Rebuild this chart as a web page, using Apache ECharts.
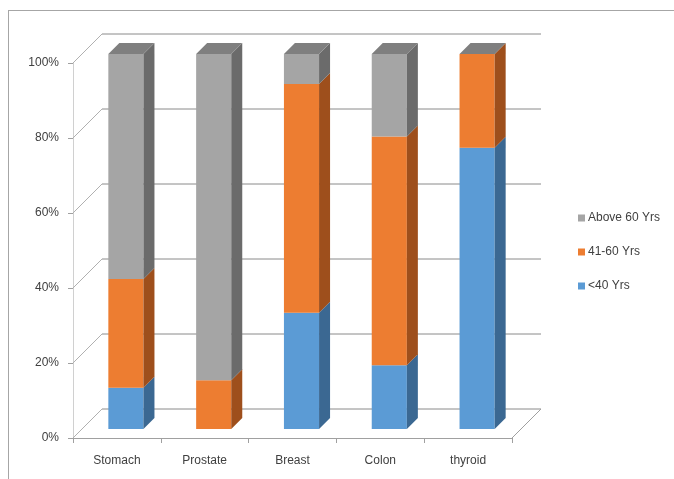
<!DOCTYPE html>
<html><head><meta charset="utf-8">
<script src="https://cdn.jsdelivr.net/npm/echarts@6/dist/echarts.min.js"></script>
<style>
html,body{margin:0;padding:0;background:#fff;}
#frame{position:absolute;left:8px;top:10px;width:700px;height:500px;border-top:1px solid #a6a6a6;border-left:1px solid #a6a6a6;}
#chart{position:absolute;left:0;top:0;width:674px;height:479px;}
</style>
</head><body>
<div id="frame"></div>
<div id="chart"></div>
<script>
// ---- data ----
const categories = ['Stomach', 'Prostate', 'Breast', 'Colon', 'thyroid'];
const under40 = [11, 0, 31, 17, 75];
const age41to60 = [29, 13, 61, 61, 25];
const above60 = [60, 87, 8, 22, 0];
const yTicks = [0, 20, 40, 60, 80, 100];
const seriesNames = ['<40 Yrs', '41-60 Yrs', 'Above 60 Yrs'];

// ---- styling ----
const WALL_DX = 29, WALL_DY = -29;   // depth of the 3D box
const BAR_OFF = 9;                   // bar front face inset
const BAR_D = 11;                    // bar depth
const FONT = 'Liberation Sans, Arial, sans-serif';

const chart = echarts.init(document.getElementById('chart'));

function stacked(arrays) {
  const out = [];
  const base = categories.map(() => 0);
  arrays.forEach(arr => {
    out.push(arr.map((v, i) => { const d = [i, base[i], base[i] + v]; base[i] += v; return d; }));
  });
  return out;
}
const stackData = stacked([under40, age41to60, above60]);

function barRender(front, side, topFill) {
  return function (params, api) {
    const ci = api.value(0), b = api.value(1), e = api.value(2);
    const pB = api.coord([ci, b]);
    const pT = api.coord([ci, e]);
    const cw = api.size([1, 0])[0];
    const bw = cw * 0.4;
    const xl = pB[0] - bw / 2 + BAR_OFF, xr = xl + bw;
    const yb = pB[1] - BAR_OFF, yt = pT[1] - BAR_OFF;
    const children = [
      { type: 'rect', shape: { x: xl, y: yt, width: bw, height: yb - yt }, style: { fill: front } },
      { type: 'polygon', shape: { points: [[xr, yt], [xr, yb], [xr + BAR_D, yb - BAR_D], [xr + BAR_D, yt - BAR_D]] }, style: { fill: side } }
    ];
    if (topFill) {
      children.push({ type: 'polygon', shape: { points: [[xl, yt], [xr, yt], [xr + BAR_D, yt - BAR_D], [xl + BAR_D, yt - BAR_D]] }, style: { fill: topFill } });
    }
    return { type: 'group', children };
  };
}

function wallRender(params, api) {
  const cs = params.coordSys;
  const v = api.value(1);
  const y = api.coord([0, v])[1];
  const x0 = cs.x, x1 = cs.x + cs.width;
  const lineStyle = { stroke: '#8a8a8a', lineWidth: 1 };
  const children = [
    { type: 'line', shape: { x1: x0 + WALL_DX, y1: y + WALL_DY, x2: x1 + WALL_DX, y2: y + WALL_DY }, style: lineStyle },
    { type: 'line', shape: { x1: x0, y1: y, x2: x0 + WALL_DX, y2: y + WALL_DY }, style: { stroke: '#b0b0b0', lineWidth: 1 } }
  ];
  if (v === 0) {
    children.push({ type: 'line', shape: { x1: x1, y1: y, x2: x1 + WALL_DX, y2: y + WALL_DY }, style: { stroke: '#a0a0a0', lineWidth: 1 } });
  }
  return { type: 'group', children };
}

const colors = [
  { front: '#5B9BD5', side: '#3B6892', top: null },
  { front: '#ED7D31', side: '#9E4F1C', top: null },
  { front: '#A5A5A5', side: '#6B6B6B', top: '#7F7F7F' }
];

const series = [{
  type: 'custom', name: 'walls', silent: true, z: 1,
  data: yTicks.map(v => [0, v]),
  renderItem: wallRender,
  encode: { x: 0, y: 1 }
}];
seriesNames.forEach((n, k) => {
  series.push({
    type: 'custom', name: n, z: 2,
    itemStyle: { color: colors[k].front },
    data: stackData[k],
    encode: { x: 0, y: [1, 2] },
    renderItem: barRender(colors[k].front, colors[k].side, colors[k].top)
  });
});

chart.setOption({
  animation: false,
  grid: { left: 73, right: 162, top: 63, bottom: 41 },
  legend: {
    orient: 'vertical', left: 573, top: 207,
    data: ['Above 60 Yrs', '41-60 Yrs', '<40 Yrs'],
    icon: 'rect', itemWidth: 7, itemHeight: 7, itemGap: 22,
    textStyle: { fontFamily: FONT, fontSize: 12, color: '#404040', padding: [0, 0, 0, -2] }
  },
  xAxis: {
    type: 'category', data: categories,
    axisLine: { show: true, lineStyle: { color: '#a0a0a0' } },
    axisTick: { show: true, length: 5, lineStyle: { color: '#a0a0a0' } },
    axisLabel: { fontFamily: FONT, fontSize: 12, color: '#404040', margin: 17 },
    splitLine: { show: false }
  },
  yAxis: {
    type: 'value', min: 0, max: 100, interval: 20,
    axisLine: { show: true, lineStyle: { color: '#d0d0d0' } },
    axisTick: { show: true, length: 5, lineStyle: { color: '#a0a0a0' } },
    axisLabel: { fontFamily: FONT, fontSize: 12, color: '#404040', margin: 14, formatter: '{value}%' },
    splitLine: { show: false }
  },
  series
});
</script>
</body></html>
